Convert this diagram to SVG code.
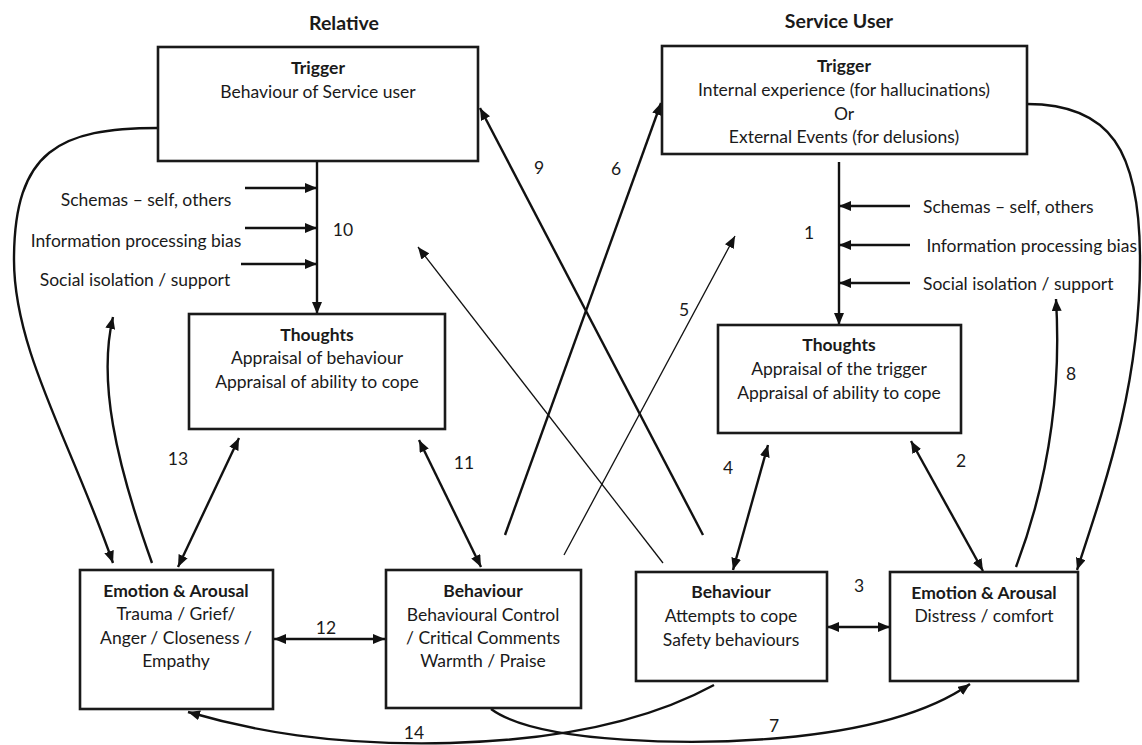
<svg xmlns="http://www.w3.org/2000/svg" width="1142" height="745" viewBox="0 0 1142 745">
<style>
text{font-family:Lato,"Liberation Sans",sans-serif;font-size:17.5px;fill:#1a1a1a;dominant-baseline:central}
.c{text-anchor:middle}
.e{text-anchor:end}
.b{font-weight:bold}
.t{font-size:19.5px}
.box{fill:#fff;stroke:#1a1a1a;stroke-width:2.6}
.thick{fill:none;stroke:#111;stroke-width:2.4}
.thin{fill:none;stroke:#111;stroke-width:1.3}
</style>
<defs>
<marker id="ah" viewBox="0 0 12 10" refX="12" refY="5" markerWidth="12" markerHeight="10" markerUnits="userSpaceOnUse" orient="auto-start-reverse">
<path d="M0,0 L12,5 L0,10 z" fill="#111"/>
</marker>
</defs>
<rect width="1142" height="745" fill="#fff"/>
<text class="c b t" x="344" y="22">Relative</text>
<text class="c b t" x="839" y="20">Service User</text>
<g id="connectors">
<line class="thick" x1="317" y1="161" x2="317" y2="314" marker-end="url(#ah)"/>
<line class="thick" x1="245" y1="188" x2="317" y2="188" marker-end="url(#ah)"/>
<line class="thick" x1="245" y1="228" x2="317" y2="228" marker-end="url(#ah)"/>
<line class="thick" x1="241" y1="264" x2="317" y2="264" marker-end="url(#ah)"/>
<line class="thick" x1="839" y1="162" x2="839" y2="325" marker-end="url(#ah)"/>
<line class="thick" x1="910" y1="206" x2="839" y2="206" marker-end="url(#ah)"/>
<line class="thick" x1="910" y1="245" x2="839" y2="245" marker-end="url(#ah)"/>
<line class="thick" x1="910" y1="283" x2="839" y2="283" marker-end="url(#ah)"/>
<path class="thick" d="M158,128 C60,128 14,150 14,260 C14,350 70,440 113,563" marker-end="url(#ah)"/>
<path class="thick" d="M152,563 C115,460 98,380 113,317" marker-end="url(#ah)"/>
<line class="thick" x1="178" y1="567" x2="239" y2="438" marker-start="url(#ah)" marker-end="url(#ah)"/>
<line class="thick" x1="481" y1="567" x2="419" y2="440" marker-start="url(#ah)" marker-end="url(#ah)"/>
<line class="thick" x1="733" y1="570" x2="768" y2="445" marker-start="url(#ah)" marker-end="url(#ah)"/>
<line class="thick" x1="983" y1="571" x2="911" y2="441" marker-start="url(#ah)" marker-end="url(#ah)"/>
<line class="thick" x1="505" y1="535" x2="661" y2="103" marker-end="url(#ah)"/>
<line class="thick" x1="703" y1="535" x2="480" y2="108" marker-end="url(#ah)"/>
<line class="thin" x1="663" y1="563" x2="418" y2="247" marker-end="url(#ah)"/>
<line class="thin" x1="564" y1="555" x2="735" y2="236" marker-end="url(#ah)"/>
<path class="thick" d="M1016,567 C1045,490 1062,400 1056,299" marker-end="url(#ah)"/>
<path class="thick" d="M1027,104 C1110,104 1140,150 1140,260 C1140,380 1110,470 1077,570" marker-end="url(#ah)"/>
<line class="thick" x1="274" y1="639" x2="385" y2="639" marker-start="url(#ah)" marker-end="url(#ah)"/>
<line class="thick" x1="827" y1="627" x2="890" y2="627" marker-start="url(#ah)" marker-end="url(#ah)"/>
<path class="thick" d="M491,709 C540,745 700,745 780,738 C870,730 930,712 970,684" marker-end="url(#ah)"/>
<path class="thick" d="M714,685 C650,720 560,740 450,743 C330,746 250,730 188,712" marker-end="url(#ah)"/>
<g id="labels">
<text class="c" x="146" y="199">Schemas – self, others</text>
<text class="c" x="136" y="240">Information processing bias</text>
<text class="c" x="135" y="279">Social isolation / support</text>
<text x="923" y="206">Schemas – self, others</text>
<text class="e" x="1137" y="245">Information processing bias</text>
<text x="923" y="283">Social isolation / support</text>
<text class="c" x="343" y="229">10</text>
<text class="c" x="809" y="232">1</text>
<text class="c" x="539" y="167">9</text>
<text class="c" x="616" y="168">6</text>
<text class="c" x="684" y="309">5</text>
<text class="c" x="178" y="458">13</text>
<text class="c" x="464" y="462">11</text>
<text class="c" x="728" y="467">4</text>
<text class="c" x="961" y="460">2</text>
<text class="c" x="1071" y="373">8</text>
<text class="c" x="326" y="627">12</text>
<text class="c" x="859" y="585">3</text>
<text class="c" x="414" y="732">14</text>
<text class="c" x="774" y="725">7</text>
</g>
</g>
<g id="rel-trigger">
<rect class="box" x="158" y="47" width="320" height="114"/>
<text class="c b" x="318" y="67">Trigger</text>
<text class="c" x="318" y="91">Behaviour of Service user</text>
</g>
<g id="su-trigger">
<rect class="box" x="662" y="46" width="365" height="108"/>
<text class="c b" x="844" y="65">Trigger</text>
<text class="c" x="844" y="89">Internal experience (for hallucinations)</text>
<text class="c" x="844" y="113">Or</text>
<text class="c" x="844" y="136">External Events (for delusions)</text>
</g>
<g id="rel-thoughts">
<rect class="box" x="189" y="314" width="256" height="115"/>
<text class="c b" x="317" y="334">Thoughts</text>
<text class="c" x="317" y="357">Appraisal of behaviour</text>
<text class="c" x="317" y="381">Appraisal of ability to cope</text>
</g>
<g id="su-thoughts">
<rect class="box" x="718" y="325" width="243" height="108"/>
<text class="c b" x="839" y="344">Thoughts</text>
<text class="c" x="839" y="368">Appraisal of the trigger</text>
<text class="c" x="839" y="392">Appraisal of ability to cope</text>
</g>
<g id="rel-emotion">
<rect class="box" x="80" y="570" width="193" height="139"/>
<text class="c b" x="176" y="590">Emotion &amp; Arousal</text>
<text class="c" x="176" y="613">Trauma / Grief/</text>
<text class="c" x="176" y="637">Anger / Closeness /</text>
<text class="c" x="176" y="660">Empathy</text>
</g>
<g id="rel-behaviour">
<rect class="box" x="386" y="570" width="195" height="138"/>
<text class="c b" x="483" y="590">Behaviour</text>
<text class="c" x="483" y="614">Behavioural Control</text>
<text class="c" x="483" y="637">/ Critical Comments</text>
<text class="c" x="483" y="660">Warmth / Praise</text>
</g>
<g id="su-behaviour">
<rect class="box" x="636" y="572" width="191" height="109"/>
<text class="c b" x="731" y="591">Behaviour</text>
<text class="c" x="731" y="615">Attempts to cope</text>
<text class="c" x="731" y="639">Safety behaviours</text>
</g>
<g id="su-emotion">
<rect class="box" x="890" y="572" width="188" height="109"/>
<text class="c b" x="984" y="592">Emotion &amp; Arousal</text>
<text class="c" x="984" y="615">Distress / comfort</text>
</g>
</svg>
